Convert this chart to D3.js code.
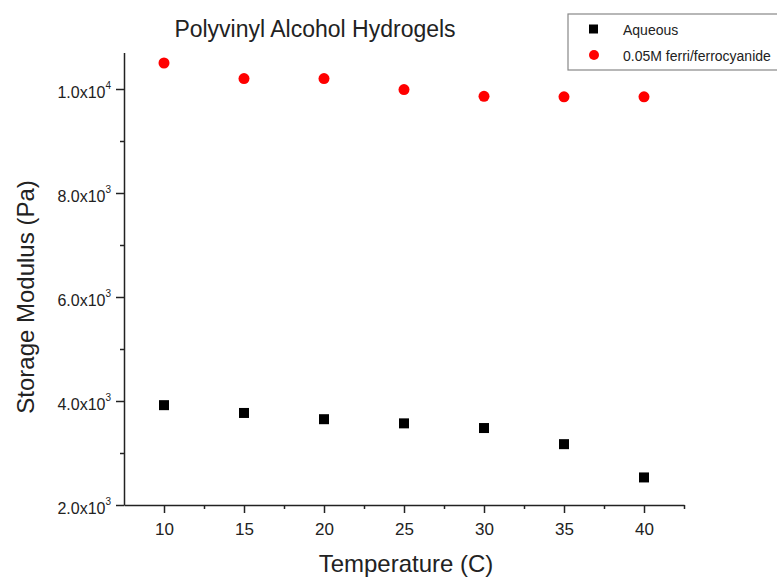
<!DOCTYPE html>
<html>
<head>
<meta charset="utf-8">
<script src="https://cdn.jsdelivr.net/npm/d3@7"></script>
<style>
    body { margin: 0; background: #fff; }
    svg { font-family: Arial, "Liberation Sans", sans-serif; }
</style>
</head>
<body>
<div class="graph"></div>
<script>
"use strict";

var temperatures = [10, 15, 20, 25, 30, 35, 40];
var aqueous = [3920, 3770, 3650, 3570, 3480, 3170, 2530];
var ferri = [10500, 10200, 10200, 9990, 9860, 9850, 9850];
var seriesNames = ["Aqueous", "0.05M ferri/ferrocyanide"];
var xTicks = [10, 15, 20, 25, 30, 35, 40];
var yTicks = [2000, 4000, 6000, 8000, 10000];

var width = 777;
var height = 577;
var FONT = "Arial, 'Liberation Sans', sans-serif";

var svg = d3.select(".graph").append("svg:svg").attr("width", width).attr("height", height);

var xScale = d3.scaleLinear().domain([7.5, 42.5]).range([124, 684]);
var yScale = d3.scaleLinear().domain([2000, 10700]).range([505, 52.6]);

// tick labels like 1.0x10^4
function sciLabel(sel, v) {
    var exp = Math.floor(Math.log10(v));
    var mant = (v / Math.pow(10, exp)).toFixed(1);
    sel.text(null);
    sel.append("tspan").text(mant + "x10");
    sel.append("tspan").attr("dy", "-9px").attr("font-size", "10px").text(exp);
}

// x axis
var xAxis = svg.append("g").attr("transform", "translate(0,505)")
    .call(d3.axisBottom(xScale).tickValues(xTicks).tickSize(8).tickSizeOuter(0));
svg.append("g").attr("transform", "translate(0,505)")
    .call(d3.axisBottom(xScale).tickValues(d3.range(12.5, 42.6, 5)).tickSize(4).tickFormat("").tickSizeOuter(0))
    .select(".domain").remove();
xAxis.selectAll("text").attr("font-size", "17px").attr("font-family", FONT).attr("fill", "#222")
    .attr("y", 30).attr("dy", null);

// y axis
var yAxis = svg.append("g").attr("transform", "translate(124,0)")
    .call(d3.axisLeft(yScale).tickValues(yTicks).tickSize(8).tickSizeOuter(0));
svg.append("g").attr("transform", "translate(124,0)")
    .call(d3.axisLeft(yScale).tickValues([3000, 5000, 7000, 9000]).tickSize(4).tickFormat("").tickSizeOuter(0))
    .select(".domain").remove();
yAxis.selectAll("text").attr("font-size", "16px").attr("font-family", FONT).attr("fill", "#222")
    .attr("x", -13).attr("dy", "0.5em")
    .each(function (d) { sciLabel(d3.select(this), d); });

svg.selectAll(".domain, .tick line").attr("stroke", "#222").attr("stroke-width", 1.5);

// data
svg.selectAll("rect.aq").data(aqueous).enter().append("svg:rect").attr("class", "aq")
    .attr("x", function (d, i) { return xScale(temperatures[i]) - 5; })
    .attr("y", function (d) { return yScale(d) - 5; })
    .attr("width", 10).attr("height", 10).attr("fill", "#000");

svg.selectAll("circle.fe").data(ferri).enter().append("circle").attr("class", "fe")
    .attr("cx", function (d, i) { return xScale(temperatures[i]); })
    .attr("cy", function (d) { return yScale(d); })
    .attr("r", 5.5).attr("fill", "#ff0000");

// titles
svg.append("text").attr("x", 315).attr("y", 37).attr("text-anchor", "middle")
    .attr("font-size", "23px").attr("fill", "#222").text("Polyvinyl Alcohol Hydrogels");
svg.append("text").attr("x", 406).attr("y", 572).attr("text-anchor", "middle")
    .attr("font-size", "24px").attr("fill", "#222").text("Temperature (C)");
svg.append("text").attr("transform", "translate(34,297) rotate(-90)").attr("text-anchor", "middle")
    .attr("font-size", "24px").attr("fill", "#222").text("Storage Modulus (Pa)");

// legend
var legend = svg.append("g");
legend.append("rect").attr("x", 568).attr("y", 14).attr("width", 220).attr("height", 56)
    .attr("fill", "#fff").attr("stroke", "#888").attr("stroke-width", 1.2);
legend.append("rect").attr("x", 589).attr("y", 24.5).attr("width", 9).attr("height", 9).attr("fill", "#000");
legend.append("circle").attr("cx", 594).attr("cy", 55).attr("r", 5).attr("fill", "#ff0000");
legend.selectAll("text.lg").data(seriesNames).enter().append("text").attr("class", "lg")
    .attr("x", 623).attr("y", function (d, i) { return 35 + i * 26; })
    .attr("font-size", "14px").attr("fill", "#222").text(function (d) { return d; });
</script>
</body>
</html>
